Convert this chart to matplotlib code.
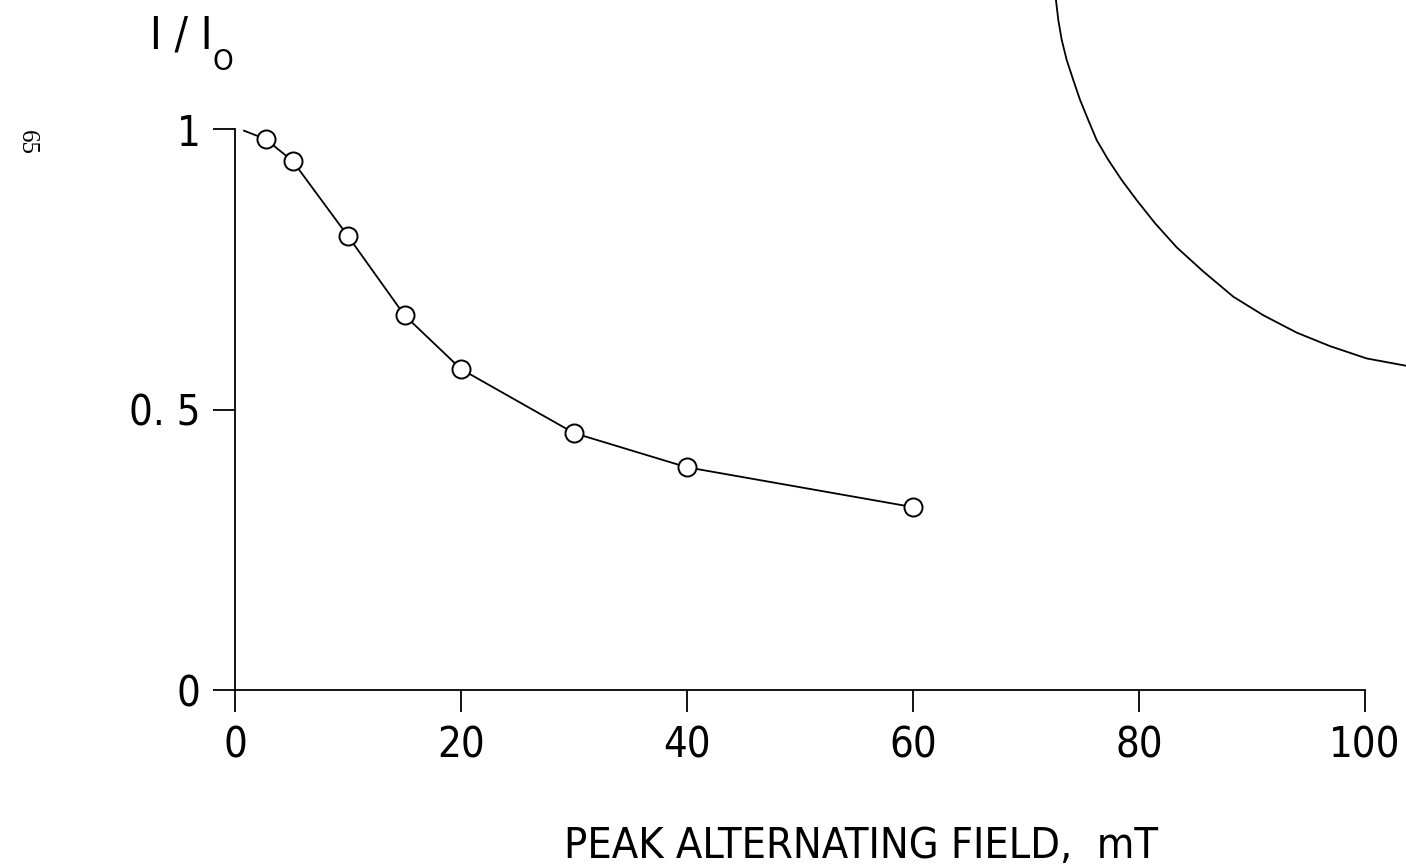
import matplotlib
matplotlib.use("Agg")
from matplotlib import pyplot as plt
from matplotlib import font_manager

# measured points (field in mT, remaining fraction I/I0)
field = [0.8, 2.7, 5.1, 10.0, 15.0, 20.0, 30.0, 40.0, 60.0]
ratio = [0.997, 0.982, 0.943, 0.809, 0.668, 0.572, 0.458, 0.397, 0.326]

# part of a curve from the neighbouring figure that shows at the top right
arc_x = [72.62, 72.86, 73.16, 73.60, 74.19, 74.78, 75.51, 76.26, 77.28, 78.47,
         79.80, 81.42, 83.34, 85.69, 88.35, 91.00, 93.96, 96.90, 100.15, 103.63]
arc_y = [1.235, 1.194, 1.159, 1.123, 1.087, 1.052, 1.016, 0.980, 0.945, 0.909,
         0.873, 0.832, 0.789, 0.746, 0.701, 0.668, 0.637, 0.613, 0.591, 0.578]

xticks = [0, 20, 40, 60, 80, 100]
yticks = [0, 0.5, 1]
ytick_labels = ["0", "0. 5", "1"]


def pick_narrow():
    """Look for a narrow sans face, narrowest first; None if there is none."""
    tries = [("Noto Sans", "extra-condensed", "light", "extracondensedlight"),
             ("Noto Sans", "extra-condensed", "normal", "extracondensed"),
             ("Liberation Sans Narrow", "normal", "normal", "narrow"),
             ("DejaVu Sans Condensed", "normal", "normal", "condensed"),
             ("DejaVu Sans", "condensed", "normal", "condensed"),
             ("Noto Sans", "condensed", "light", "condensedlight"),
             ("Noto Sans", "condensed", "normal", "condensed")]
    for family, stretch, weight, key in tries:
        prop = font_manager.FontProperties(family=family, stretch=stretch, weight=weight)
        try:
            path = font_manager.findfont(prop, fallback_to_default=False)
        except ValueError:
            continue
        if key in path.lower().replace("-", "").replace("_", ""):
            return family, stretch, weight
    return None


narrow = pick_narrow()
if narrow is not None:
    family, stretch, weight = narrow
    tick_size, xlabel_size, ylabel_size = 30, 31, 32
else:
    family, stretch, weight = "Liberation Sans", "normal", "normal"
    tick_size, xlabel_size, ylabel_size = 30, 29, 31
font = dict(family=family, stretch=stretch, weight=weight)

W, H = 1406, 866
fig = plt.figure(figsize=(W / 100, H / 100), dpi=100)
ax = fig.add_axes([235 / W, 176 / H, 1130 / W, 561 / H])
ax.set_xlim(0, 100)
ax.set_ylim(0, 1)

for side in ["top", "right"]:
    ax.spines[side].set_visible(False)
for side in ["left", "bottom"]:
    ax.spines[side].set_linewidth(1.3)

ax.plot(field, ratio, color="black", linewidth=1.3, clip_on=False)
ax.plot(field[1:], ratio[1:], linestyle="none", marker="o", markersize=13,
        markerfacecolor="white", markeredgecolor="black", markeredgewidth=1.4,
        clip_on=False)
ax.plot(arc_x, arc_y, color="black", linewidth=1.3, clip_on=False)

ax.set_xticks(xticks)
ax.set_xticklabels([str(t) for t in xticks])
ax.set_yticks(yticks)
ax.set_yticklabels(ytick_labels)
ax.tick_params(direction="out", length=16, width=1.3, labelsize=tick_size, pad=9)
for label in ax.get_xticklabels() + ax.get_yticklabels():
    label.set_family(family)
    label.set_stretch(stretch)
    label.set_weight(weight)

ax.set_xlabel("PEAK ALTERNATING FIELD,  mT", fontsize=xlabel_size, **font)
ax.xaxis.set_label_coords((861 - 235) / 1130, (690 - 858) / 561)
ax.xaxis.label.set_va("baseline")

ax.set_ylabel("I / I", fontsize=ylabel_size, rotation=0, **font)
ax.yaxis.set_label_coords((150 - 235) / 1130, (690 - 48) / 561)
ax.yaxis.label.set_ha("left")
ax.yaxis.label.set_va("baseline")
fig.text(213 / W, 1 - 70 / H, "O", fontsize=21, ha="left", va="baseline", **font)

# page number of the scanned page
fig.text(27 / W, 1 - 143 / H, "65", family="Liberation Serif", fontsize=18,
         rotation=-90, ha="center", va="center")

fig.savefig("out.png", dpi=100)
